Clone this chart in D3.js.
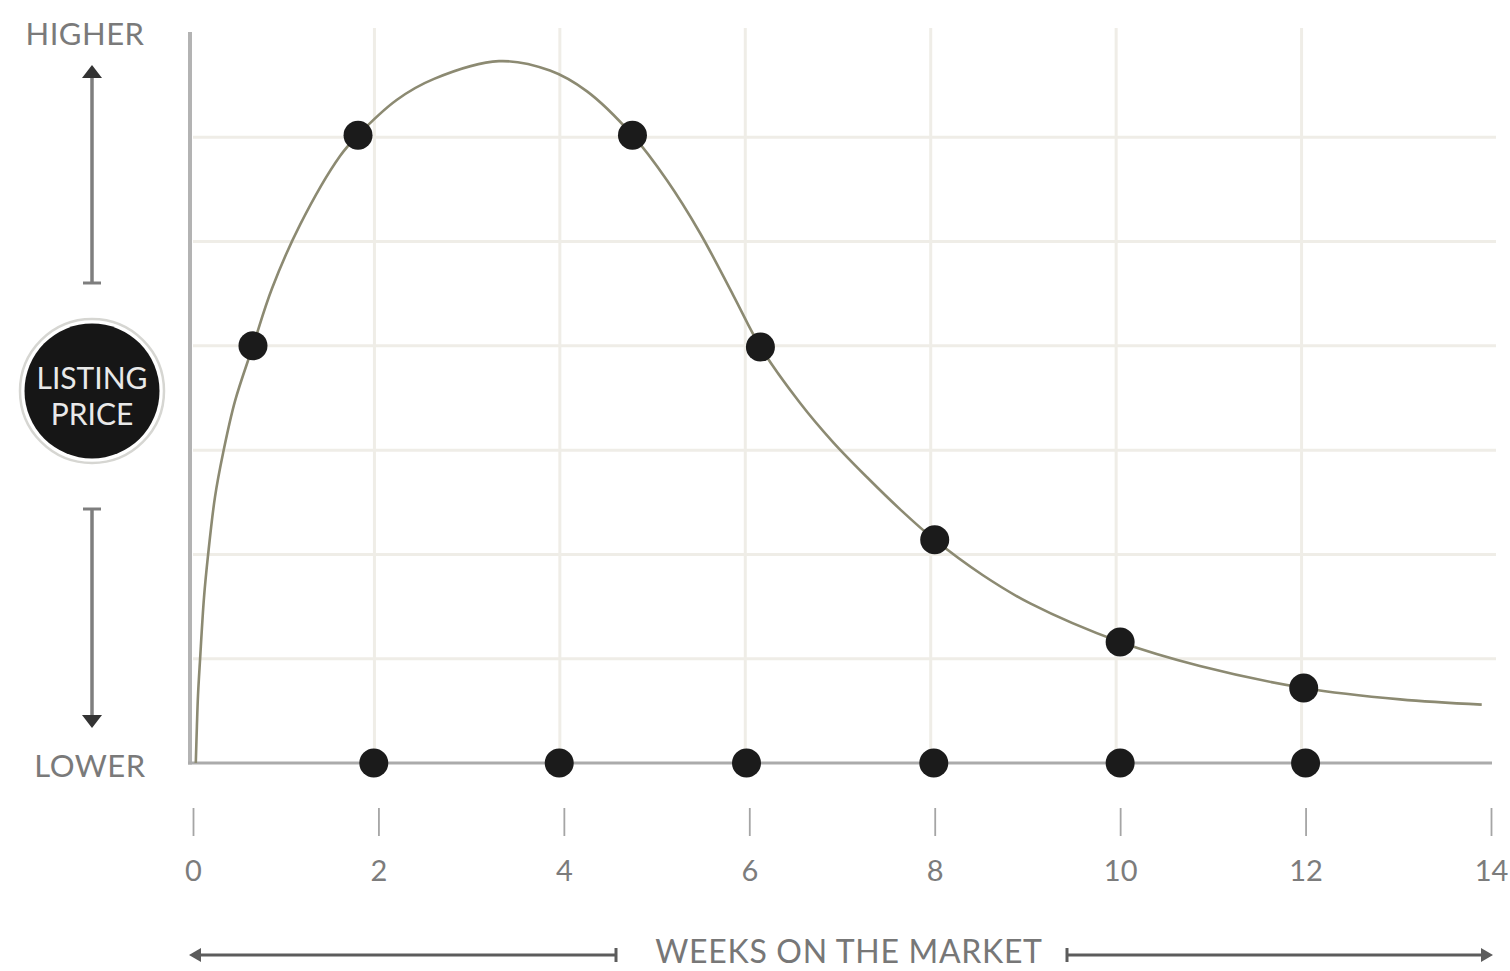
<!DOCTYPE html>
<html>
<head>
<meta charset="utf-8">
<script src="https://cdn.jsdelivr.net/npm/d3@7"></script>
<style>
  html, body { margin: 0; padding: 0; background: #ffffff; }
  svg { display: block; }
  text { font-family: Lato, "Open Sans", sans-serif; }
</style>
</head>
<body>
<svg id="chart" width="1510" height="971"></svg>
<script>
// Listing price over time on the market (relative scale, 0 = lower, 7 = higher)
const curveWeeks = [0.03, 0.042, 0.054, 0.076, 0.119, 0.162, 0.237, 0.324, 0.453, 0.647, 0.852, 1.154, 1.586, 1.78, 2.2, 2.6, 3.3, 3.85, 4.25, 4.74, 5.11, 5.47, 5.83, 6.12, 6.55, 6.9, 7.27, 7.63, 8.0, 8.52, 9.03, 10.0, 10.86, 11.98, 13.02, 13.9];
const curvePrice = [0, 0.35, 0.65, 0.99, 1.59, 1.99, 2.55, 2.97, 3.47, 4.0, 4.55, 5.16, 5.82, 6.02, 6.36, 6.56, 6.73, 6.64, 6.44, 6.02, 5.59, 5.08, 4.48, 3.99, 3.45, 3.08, 2.74, 2.43, 2.14, 1.8, 1.53, 1.16, 0.93, 0.72, 0.61, 0.56];

// Highlighted points on the curve
const markerWeeks = [0.647, 1.78, 4.74, 6.12, 8.0, 10.0, 11.98];
const markerPrice = [4.0, 6.02, 6.02, 3.99, 2.14, 1.16, 0.72];

// Points along the time axis
const baseWeeks = [1.95, 3.95, 5.97, 7.99, 10, 12];

const xTicks = [0, 2, 4, 6, 8, 10, 12, 14];
const gridWeeks = [2, 4, 6, 8, 10, 12];
const gridPrice = [1, 2, 3, 4, 5, 6];

const svg = d3.select("#chart");

const x = d3.scaleLinear().domain([0, 14]).range([193, 1491]);
const y = d3.scaleLinear().domain([0, 7]).range([763, 33]);

const gridColor = "#efede7";

// grid
svg.append("g").selectAll("line").data(gridPrice).join("line")
  .attr("x1", x(0)).attr("x2", 1496)
  .attr("y1", d => y(d)).attr("y2", d => y(d))
  .attr("stroke", gridColor).attr("stroke-width", 3);

svg.append("g").selectAll("line").data(gridWeeks).join("line")
  .attr("x1", d => x(d) - 4).attr("x2", d => x(d) - 4)
  .attr("y1", y(7) - 5).attr("y2", y(0))
  .attr("stroke", gridColor).attr("stroke-width", 3);

// axes lines
svg.append("line")
  .attr("x1", x(0) - 3).attr("x2", x(0) - 3)
  .attr("y1", y(7) - 1).attr("y2", y(0) + 1.5)
  .attr("stroke", "#b3b3b3").attr("stroke-width", 4);
svg.append("line")
  .attr("x1", x(0) - 5).attr("x2", x(14) + 1)
  .attr("y1", y(0)).attr("y2", y(0))
  .attr("stroke", "#ababab").attr("stroke-width", 3);

// price curve
const pts = curveWeeks.map((w, i) => [w, curvePrice[i]]);
const line = d3.line().x(d => x(d[0])).y(d => y(d[1])).curve(d3.curveCatmullRom.alpha(0.5));
svg.append("path").datum(pts)
  .attr("d", line)
  .attr("fill", "none")
  .attr("stroke", "#8c8a72")
  .attr("stroke-width", 2.6);

// markers
const dotColor = "#1b1b1b";
svg.append("g").selectAll("circle").data(markerWeeks.map((w, i) => [w, markerPrice[i]])).join("circle")
  .attr("cx", d => x(d[0])).attr("cy", d => y(d[1])).attr("r", 14.5)
  .attr("fill", dotColor);
svg.append("g").selectAll("circle").data(baseWeeks).join("circle")
  .attr("cx", d => x(d)).attr("cy", y(0)).attr("r", 14.5)
  .attr("fill", dotColor);

// x axis ticks and labels
const xAxis = d3.axisBottom(x).tickValues(xTicks).tickSize(0).tickPadding(0).tickFormat(d3.format("d"));
const gx = svg.append("g").call(xAxis);
gx.select(".domain").remove();
gx.selectAll(".tick line").remove();
gx.selectAll(".tick").each(function () {
  const t = d3.select(this);
  t.append("line").attr("x1", 0).attr("x2", 0).attr("y1", 808).attr("y2", 836)
    .attr("stroke", "#a5a5a5").attr("stroke-width", 1.8);
  t.select("text").attr("y", 881).attr("dy", null)
    .attr("fill", "#7c7c7c").attr("font-size", 29)
    .style("font-family", "Lato, sans-serif");
});

// axis title with arrows
const arrowColor = "#5c5c5c";
const ay = 955;
svg.append("line").attr("x1", 196).attr("x2", 616).attr("y1", ay).attr("y2", ay)
  .attr("stroke", arrowColor).attr("stroke-width", 3);
svg.append("path").attr("d", `M189,${ay} L201,${ay - 7} L201,${ay + 7} Z`).attr("fill", arrowColor);
svg.append("line").attr("x1", 616).attr("x2", 616).attr("y1", ay - 7).attr("y2", ay + 7)
  .attr("stroke", arrowColor).attr("stroke-width", 3);

svg.append("line").attr("x1", 1067).attr("x2", 1486).attr("y1", ay).attr("y2", ay)
  .attr("stroke", arrowColor).attr("stroke-width", 3);
svg.append("path").attr("d", `M1493,${ay} L1481,${ay - 7} L1481,${ay + 7} Z`).attr("fill", arrowColor);
svg.append("line").attr("x1", 1067).attr("x2", 1067).attr("y1", ay - 7).attr("y2", ay + 7)
  .attr("stroke", arrowColor).attr("stroke-width", 3);

svg.append("text").attr("x", 849).attr("y", 963)
  .attr("text-anchor", "middle").attr("font-size", 32)
  .attr("letter-spacing", 0.7)
  .attr("fill", "#777777")
  .text("WEEKS ON THE MARKET");

// y axis annotations
const yColor = "#7a7a7a";
svg.append("text").attr("x", 85).attr("y", 45).attr("text-anchor", "middle")
  .attr("font-size", 31).attr("letter-spacing", 0.5).attr("fill", yColor).text("HIGHER");
svg.append("text").attr("x", 90).attr("y", 777).attr("text-anchor", "middle")
  .attr("font-size", 31).attr("letter-spacing", 0.5).attr("fill", yColor).text("LOWER");

const vColor = "#7e7e7e";
// upward arrow
svg.append("line").attr("x1", 92).attr("x2", 92).attr("y1", 76).attr("y2", 283)
  .attr("stroke", vColor).attr("stroke-width", 3.5);
svg.append("path").attr("d", "M92,65 L82,78 L102,78 Z").attr("fill", "#333");
svg.append("line").attr("x1", 83).attr("x2", 101).attr("y1", 283).attr("y2", 283)
  .attr("stroke", vColor).attr("stroke-width", 3);
// downward arrow
svg.append("line").attr("x1", 92).attr("x2", 92).attr("y1", 509).attr("y2", 716)
  .attr("stroke", vColor).attr("stroke-width", 3.5);
svg.append("path").attr("d", "M92,728 L82,715 L102,715 Z").attr("fill", "#333");
svg.append("line").attr("x1", 83).attr("x2", 101).attr("y1", 509).attr("y2", 509)
  .attr("stroke", vColor).attr("stroke-width", 3);

// badge
svg.append("circle").attr("cx", 92).attr("cy", 391).attr("r", 72)
  .attr("fill", "#ffffff").attr("stroke", "#d6d6d2").attr("stroke-width", 2.5);
svg.append("circle").attr("cx", 92).attr("cy", 391).attr("r", 67.5)
  .attr("fill", "#161616");
svg.append("text").attr("x", 92).attr("y", 389).attr("text-anchor", "middle")
  .attr("font-size", 30).attr("fill", "#e9e9e9").text("LISTING");
svg.append("text").attr("x", 92).attr("y", 425).attr("text-anchor", "middle")
  .attr("font-size", 30).attr("fill", "#e9e9e9").text("PRICE");
</script>
</body>
</html>
